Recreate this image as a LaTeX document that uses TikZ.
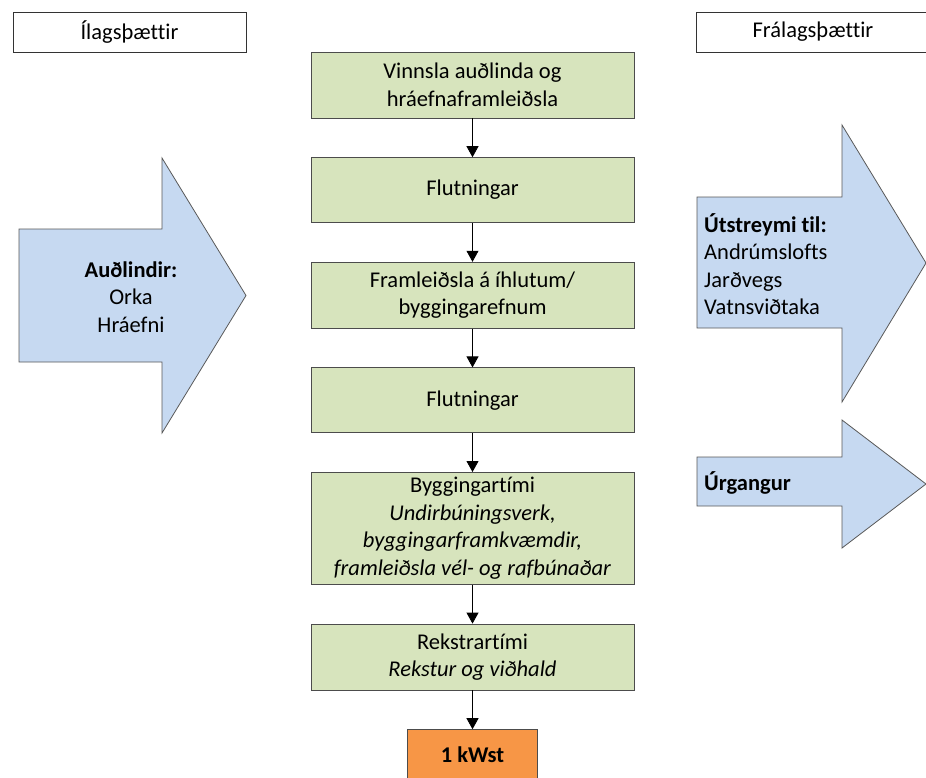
\documentclass[tikz,border=0pt]{standalone}
\usepackage{fontspec}
\setmainfont[Ligatures=NoCommon]{Carlito}
\usetikzlibrary{positioning,arrows.meta}

\definecolor{stagegreen}{HTML}{D7E4BD}
\definecolor{flowblue}{HTML}{C6D9F1}
\definecolor{unitorange}{HTML}{F79646}

\tikzset{
  txt/.style={font=\fontsize{22.5pt}{27.5pt}\selectfont},
  sidelabel/.style={txt, draw=black!80, line width=0.8pt, fill=white,
    minimum width=233pt, minimum height=40pt, inner sep=0pt},
  stage/.style={txt, draw=black!70, fill=stagegreen, line width=0.8pt,
    minimum width=323pt, inner sep=0pt, align=center},
  flow/.style={draw=black!65, fill=flowblue, line width=0.8pt},
  flowtxt/.style={txt, inner sep=0pt},
  link/.style={-{Triangle[width=12pt,length=11pt]}, line width=0.8pt},
}

\begin{document}
\begin{tikzpicture}[x=1pt, y=-1pt, node distance=38.8pt]
        \useasboundingbox (0,0) rectangle (926,777);
        % Define nodes
        % side headings
        \node[sidelabel] (inlbl) at (129.5,32) {Ílagsþættir}; %
        \node[sidelabel] (outlbl) at (813,32) {Frálagsþættir}; %
        % life cycle stages
        \node[stage, minimum height=66pt] (extract) at (472.5,85) {Vinnsla auðlinda og\\hráefnaframleiðsla}; %
        \node[stage, minimum height=65pt, below=of extract] (transA) {Flutningar}; %
        \node[stage, minimum height=66pt, below=of transA] (parts) {Framleiðsla á íhlutum/\\byggingarefnum}; %
        \node[stage, minimum height=65pt, below=of parts] (transB) {Flutningar}; %
        \node[stage, minimum height=112pt, below=of transB] (build) {Byggingartími\\\textit{Undirbúningsverk,}\\\textit{byggingarframkvæmdir,}\\\textit{framleiðsla vél- og rafbúnaðar}}; %
        \node[stage, minimum height=66pt, below=of build] (operate) {Rekstrartími\\\textit{Rekstur og viðhald}}; %
        \node[txt, draw=black!70, fill=unitorange, line width=0.8pt, minimum width=130pt, minimum height=50pt, inner sep=0pt, below=of operate] (unit) {\textbf{1 kWst}}; %
        \draw[link] (extract) -- (transA);
        \draw[link] (transA) -- (parts);
        \draw[link] (parts) -- (transB);
        \draw[link] (transB) -- (build);
        \draw[link] (build) -- (operate);
        \draw[link] (operate) -- (unit);
        % inputs and outputs
        \draw[flow] (19,229) -- (162,229) -- (162,158) -- (246,295.5) -- (162,433) -- (162,362) -- (19,362) -- cycle;
        \node[flowtxt, align=center] (inputs) at (131,297) {\textbf{Auðlindir:}\\Orka\\Hráefni}; %
        \draw[flow] (697,197) -- (842,197) -- (842,125) -- (926,263) -- (842,402) -- (842,328) -- (697,328) -- cycle;
        \node[flowtxt, align=left, anchor=west] (emission) at (704,264) {\textbf{Útstreymi til:}\\Andrúmslofts\\Jarðvegs\\Vatnsviðtaka}; %
        \draw[flow] (697,457) -- (842,457) -- (842,420) -- (926,484) -- (842,548) -- (842,506) -- (697,506) -- cycle;
        \node[flowtxt, anchor=west] (waste) at (704,483) {\textbf{Úrgangur}}; %
\end{tikzpicture}
\end{document}
